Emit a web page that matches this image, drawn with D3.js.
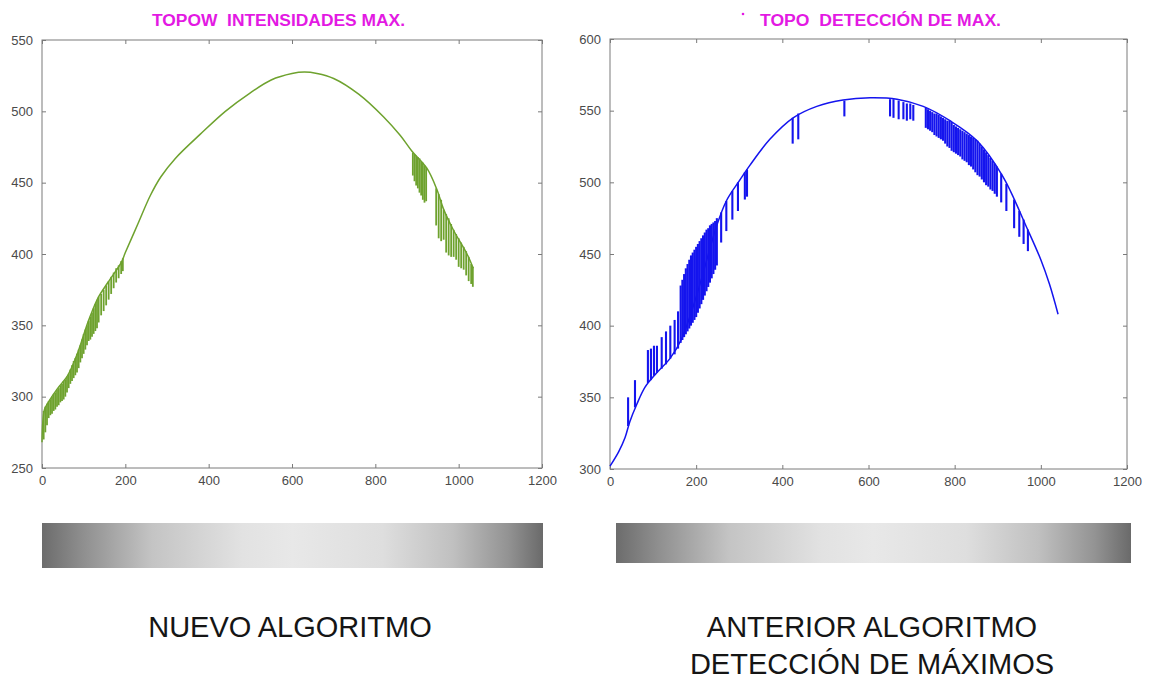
<!DOCTYPE html>
<meta charset="utf-8">
<style>
body { margin: 0; background: #fff; }
svg { display: block; font-family: Arial, "Liberation Sans", sans-serif; }
.tick text { font-size: 13px; fill: #4a4a4a; }
.axis line { stroke: #7a7a7a; }
.title { font-weight: bold; font-size: 16px; fill: #e319e3; white-space: pre; }
.caption { font-size: 29px; fill: #151515; text-anchor: middle; }
</style>
<svg width="1154" height="679"></svg>
<script src="https://cdn.jsdelivr.net/npm/d3@7"></script>
<script>

// ---- data ----
var xTicks = [0, 200, 400, 600, 800, 1000, 1200];
var leftYTicks = [250, 300, 350, 400, 450, 500, 550];
var rightYTicks = [300, 350, 400, 450, 500, 550, 600];

var leftTitle = "TOPOW  INTENSIDADES MAX.";
var rightTitle = "TOPO  DETECCIÓN DE MAX.";
var leftCaption = ["NUEVO ALGORITMO"];
var rightCaption = ["ANTERIOR ALGORITMO", "DETECCIÓN DE MÁXIMOS"];

// main trace [x, y]
var leftCurve = [[0,268],[6,291],[15,296],[38,306],[62,315],[86,331],[110,352],[134,369],[158,380],[190,394],[200,401],
  [230,421],[260,441],[285,454],[320,467],[380,484],[440,500],[500,513],[550,522],[600,526.5],[630,527.5],[660,526.5],
  [700,523],[760,512],[820,496],[860,483],[888,472],[924,460],[948,445],[963,432],[987,417],[1020,400],[1035,390]];

// vertical jumps of the trace [x, y1, y2]
var leftSpikes = [[4,290,270],[8,293,275],[12,295,280],[16,297,285],[20,298,287],[24,300,288],[28,302,290],[32,303,291],
  [36,305,293],[40,306,294],[44,308,296],[48,309,297],[52,311,298],[56,312,300],[60,314,303],[64,316,306],[68,319,309],
  [72,322,311],[76,325,313],[80,327,315],[84,330,317],[88,333,320],[92,336,324],[96,340,327],[100,344,330],[104,347,333],
  [108,350,336],[112,353,339],[116,356,340],[120,359,342],[124,362,344],[128,365,346],[132,368,348],[136,370,352],
  [142,372,357],[148,375,360],[154,378,364],[160,381,368],[166,384,372],[172,387,376],[178,390,380],[184,392,383],
  [190,395,386],[194,397,388],
  [890,471,455],[894,470,451],[898,469,448],[902,468,446],[906,467,443],[910,465,441],[914,464,438],[918,462,436],[922,461,437],
  [946,446,420],[952,442,411],[958,438,409],[964,431,410],[970,428,401],[976,425,399],[982,421,398],[988,417,398],
  [994,414,396],[1000,411,391],[1006,408,390],[1012,405,389],[1018,402,385],[1024,398,381],[1030,393,379],[1034,391,377]];

var rightCurve = [[0,302],[20,312],[35,322],[46,333],[62,345],[81,357],[108,367],[139,377],[165,390],[200,420],
  [248,470],[270,487],[300,501],[325,512],[371,530],[425,545],[480,553],[541,557.5],[604,559],[666,558],[727,553],
  [789,543],[852,529],[912,504],[968,468],[1000,446],[1020,429],[1040,408]];

var rightSpikes = [[42,330,350],[58,343,362],[88,360,383],[95,362,384],[102,365,386],[109,367,386],[120,370,392],
  [130,373,396],[140,377,400],[150,380,404],[158,384,410],
  [164,388,428],[168,390,432],[172,392,436],[176,394,440],[180,396,443],[184,398,446],[188,400,449],[192,402,451],
  [196,404,453],[200,406,455],[204,409,457],[208,412,459],[212,415,461],[216,418,463],[220,421,465],[224,424,467],
  [228,427,468],[232,430,470],[236,433,471],[240,436,472],[244,439,473],[248,442,475],
  [258,479,458],[270,487,466],[284,494,474],[297,500,480],[313,507,488],[318,509,490],
  [424,545,527],[437,548,530],[544,557,546],
  [650,558,546],[658,558,545],[670,557,544],[681,556,544],[689,555,543],[697,555,544],[704,554,543],
  [733,552,538],[738,551,537],[743,550,536],[748,549,535],[753,548,533],[758,548,532],[763,547,531],[768,546,530],
  [773,545,529],[778,544,527],[783,543,525],[788,543,524],[793,542,522],[798,540,521],[803,539,520],[808,538,519],
  [813,537,518],[818,536,516],[823,535,515],[828,534,514],[833,533,512],[838,532,511],[843,531,509],[848,530,507],
  [853,529,505],[858,527,504],[863,525,502],[868,523,500],[873,521,498],[878,519,497],[883,517,495],[888,515,494],
  [893,513,492],[898,511,490],[908,506,486],[920,499,480],[938,488,468],[950,480,462],[960,474,457],[970,467,452]];

// gradient strip stops [offset, grey]
var stripStops = [[0,"#6c6c6c"],[0.08,"#8e8e8e"],[0.22,"#c4c4c4"],[0.4,"#e2e2e2"],[0.5,"#e8e8e8"],
  [0.68,"#dedede"],[0.82,"#c0c0c0"],[0.93,"#939393"],[1,"#6a6a6a"]];

var svg = d3.select("svg");

var grad = svg.append("defs").append("linearGradient").attr("id", "strip");
grad.selectAll("stop").data(stripStops).enter().append("stop")
    .attr("offset", function(d) { return d[0]; })
    .attr("stop-color", function(d) { return d[1]; });

function panel(o) {
  var x = d3.scaleLinear().domain([0, 1200]).range([o.left, o.right]);
  var y = d3.scaleLinear().domain(o.yDomain).range([o.bottom, o.top]);
  var fmt = d3.format("d");
  var g = svg.append("g");

  g.append("rect")
      .attr("x", o.left).attr("y", o.top)
      .attr("width", o.right - o.left).attr("height", o.bottom - o.top)
      .attr("fill", "none").attr("stroke", "#7a7a7a");

  g.append("g").attr("class", "axis")
      .attr("transform", "translate(0," + o.bottom + ")")
      .call(d3.axisBottom(x).tickValues(xTicks).tickFormat(fmt).tickSizeInner(-4).tickSizeOuter(0).tickPadding(8));
  g.append("g").attr("class", "axis")
      .attr("transform", "translate(0," + o.top + ")")
      .call(d3.axisTop(x).tickValues(xTicks).tickSizeInner(-4).tickSizeOuter(0).tickFormat(""));
  g.append("g").attr("class", "axis")
      .attr("transform", "translate(" + o.left + ",0)")
      .call(d3.axisLeft(y).tickValues(o.yTicks).tickFormat(fmt).tickSizeInner(-4).tickSizeOuter(0).tickPadding(9));
  g.append("g").attr("class", "axis")
      .attr("transform", "translate(" + o.right + ",0)")
      .call(d3.axisRight(y).tickValues(o.yTicks).tickSizeInner(-4).tickSizeOuter(0).tickFormat(""));
  g.selectAll(".axis .domain").remove();

  var line = d3.line()
      .x(function(d) { return x(d[0]); })
      .y(function(d) { return y(d[1]); })
      .curve(d3.curveCatmullRom.alpha(0.5));

  g.append("path")
      .datum(o.curve)
      .attr("d", line)
      .attr("fill", "none")
      .attr("stroke", o.color)
      .attr("stroke-width", 1.5);

  g.selectAll(".spike").data(o.spikes).enter().append("line")
      .attr("class", "spike")
      .attr("x1", function(d) { return x(d[0]); })
      .attr("x2", function(d) { return x(d[0]); })
      .attr("y1", function(d) { return y(d[1]); })
      .attr("y2", function(d) { return y(d[2]); })
      .attr("stroke", o.color)
      .attr("stroke-width", o.spikeW);

  g.append("text").attr("class", "title")
      .attr("x", o.titleX).attr("y", 26)
      .attr("textLength", o.titleW).attr("lengthAdjust", "spacingAndGlyphs")
      .text(o.title);

  g.append("rect")
      .attr("x", o.strip[0]).attr("y", 523)
      .attr("width", o.strip[1] - o.strip[0]).attr("height", o.strip[2])
      .attr("fill", "url(#strip)");

  g.selectAll(".caption").data(o.caption).enter().append("text")
      .attr("class", "caption")
      .attr("x", o.capX)
      .attr("y", function(d, i) { return 637 + i * 37; })
      .text(function(d) { return d; });
}

panel({left: 42, right: 542, top: 40, bottom: 468, yDomain: [250, 550], yTicks: leftYTicks,
  curve: leftCurve, spikes: leftSpikes, color: "#6ea22e", spikeW: 1.8,
  title: leftTitle, titleX: 152, titleW: 253, strip: [42, 543, 45],
  caption: leftCaption, capX: 290});

panel({left: 610, right: 1127, top: 39, bottom: 469, yDomain: [300, 600], yTicks: rightYTicks,
  curve: rightCurve, spikes: rightSpikes, color: "#1414ee", spikeW: 2.1,
  title: rightTitle, titleX: 760, titleW: 241, strip: [616, 1131, 40],
  caption: rightCaption, capX: 872});

// stray dot before the right title
svg.append("circle").attr("cx", 743).attr("cy", 14).attr("r", 1.3).attr("fill", "#e319e3");

</script>
